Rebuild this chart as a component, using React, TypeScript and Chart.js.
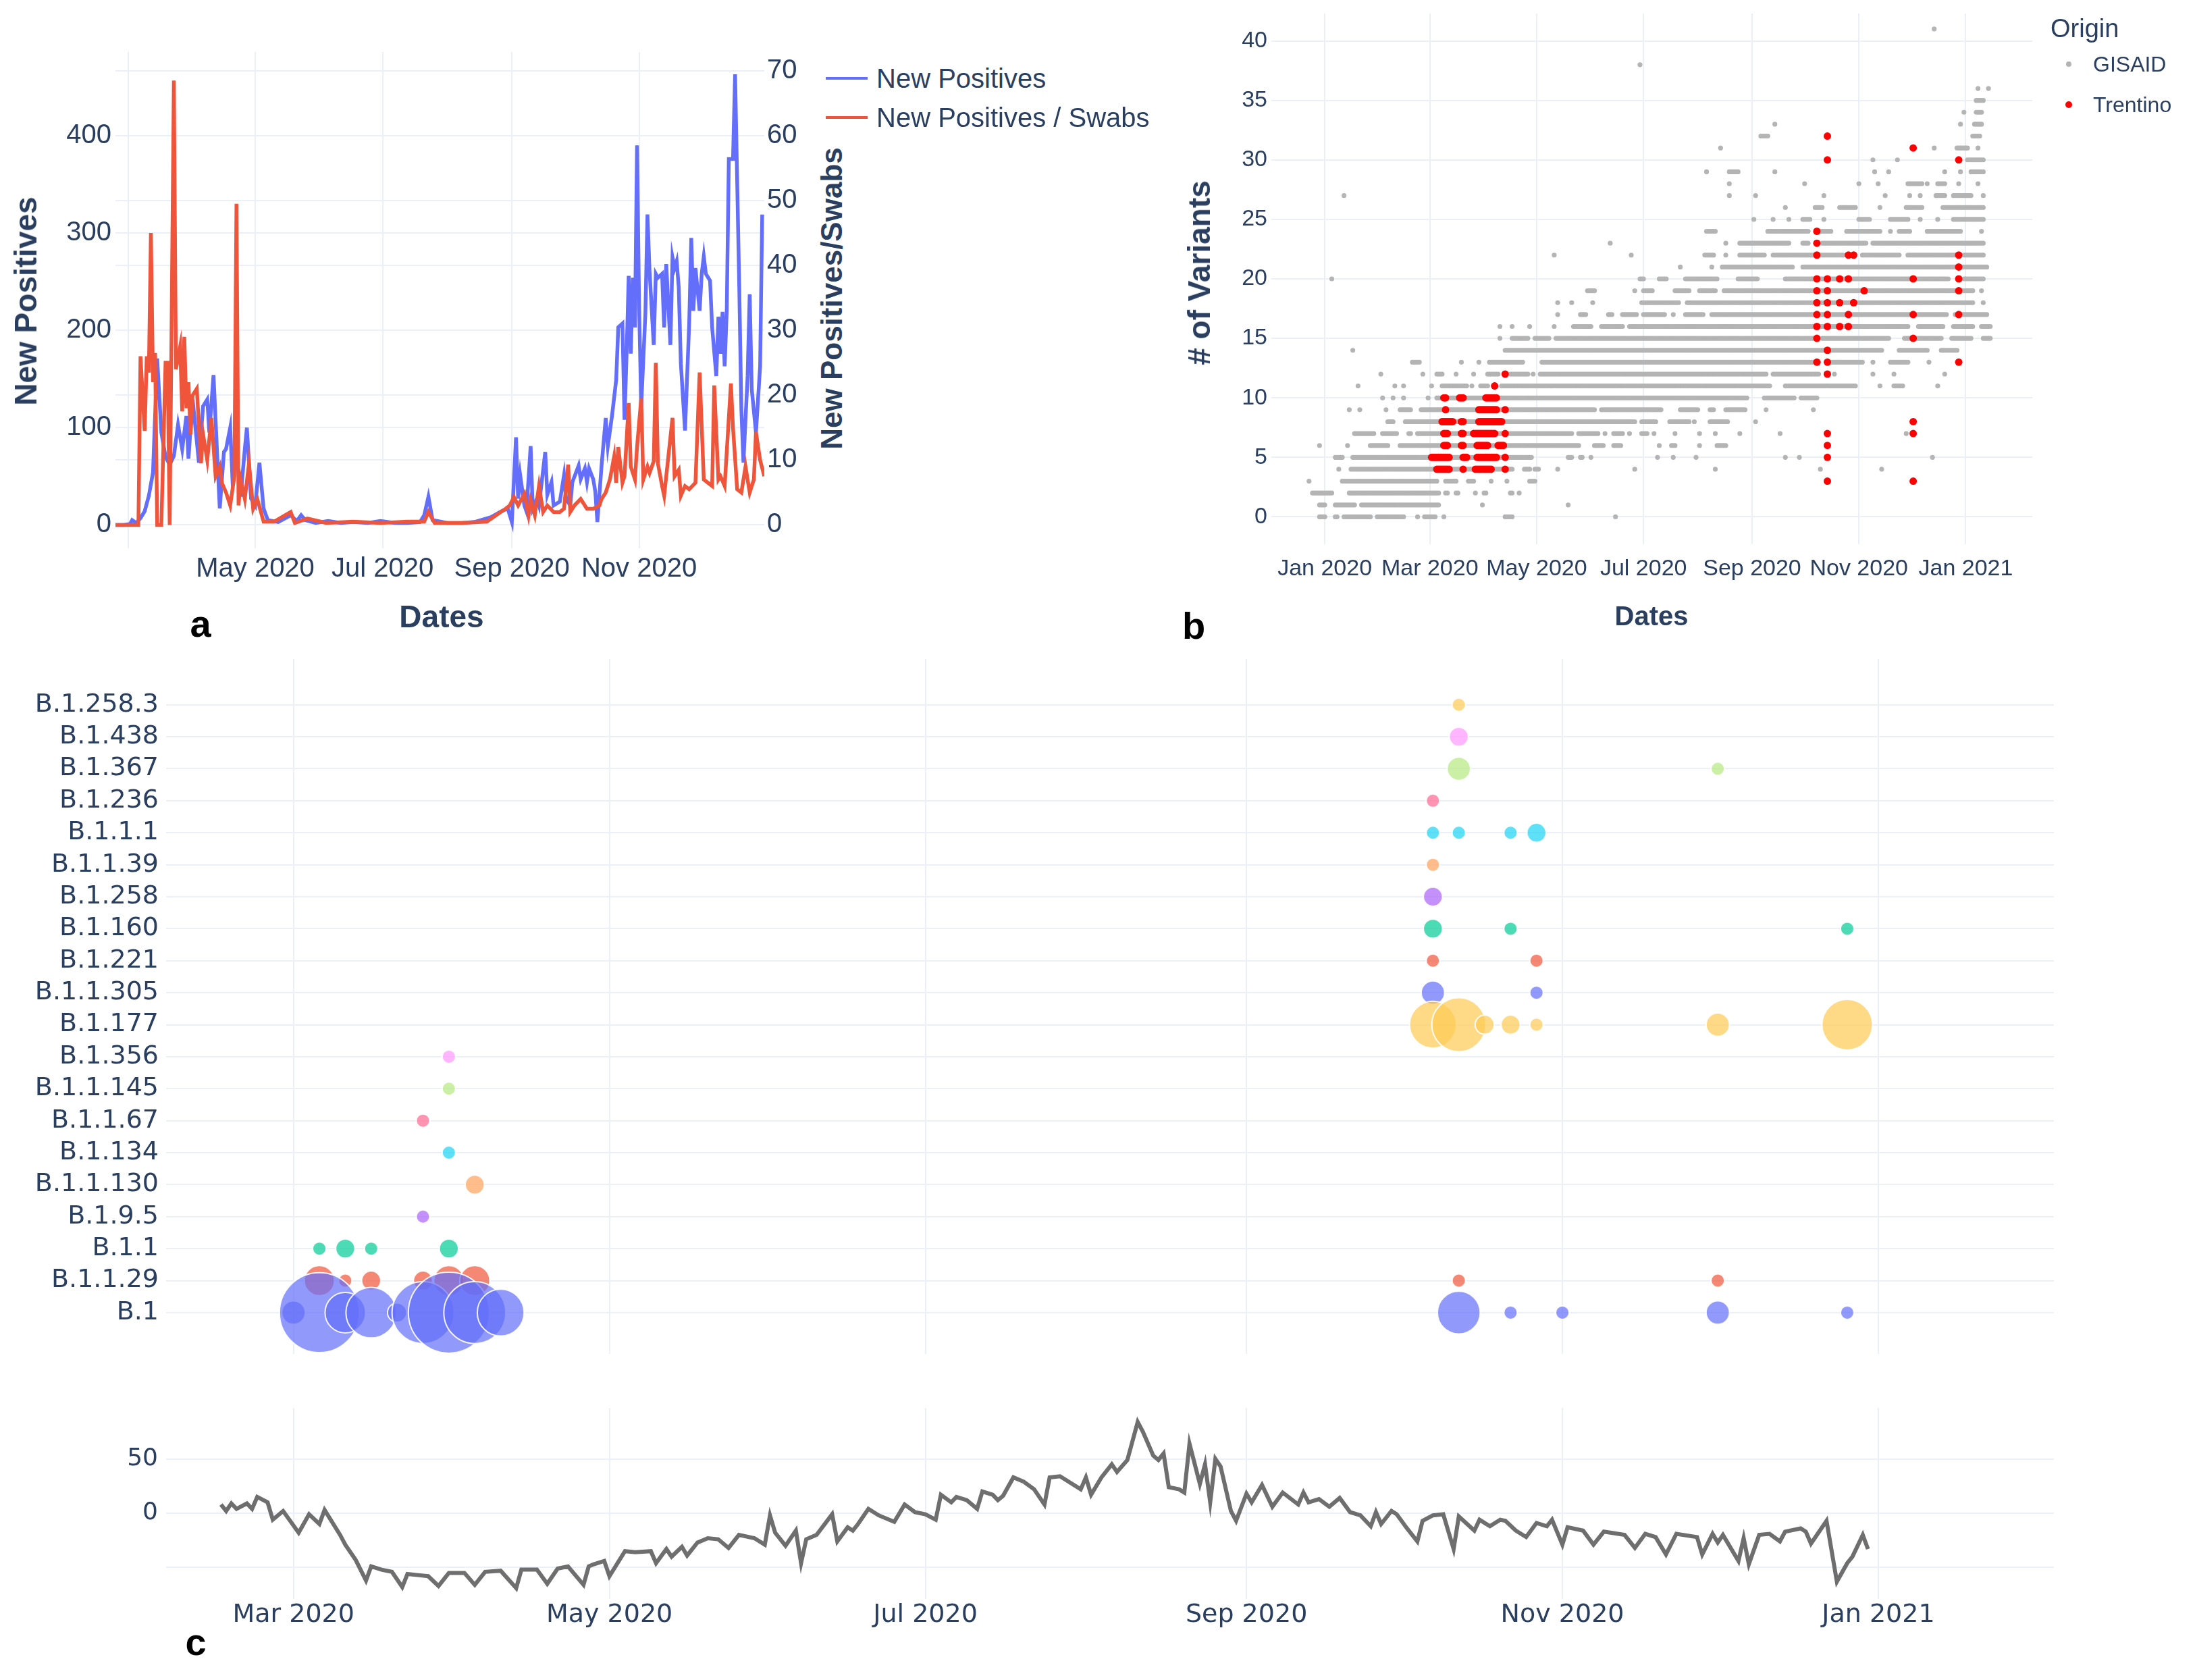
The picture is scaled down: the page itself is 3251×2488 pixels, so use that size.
import React, { useEffect, useRef } from "react";
import { Chart, registerables } from "chart.js";

Chart.register(...registerables);

// ---------------- DATA ----------------
// Day numbers count days from 2020-01-01 (0 = 1 Jan 2020).

// Panel a: daily new positives (left axis) and new positives / swabs (right axis)
const positivesDay = [54, 58, 61, 62, 64, 66, 68, 70, 72, 74, 76, 78, 80, 82, 84, 86, 88, 89, 91, 94, 96, 98, 99, 101, 103, 104, 106, 107, 109, 110, 112, 114, 116, 117, 119, 121, 123, 125, 127, 132, 138, 141, 143, 145, 150, 156, 162, 168, 175, 181, 188, 194, 200, 202, 204, 206, 213, 220, 226, 234, 239, 242, 244, 246, 247, 248, 250, 251, 253, 254, 256, 257, 260, 261, 263, 264, 267, 269, 270, 272, 273, 276, 277, 279, 280, 281, 283, 284, 285, 287, 289, 290, 292, 294, 295, 297, 298, 299, 300, 301, 302, 303, 304, 305, 306, 308, 309, 310, 312, 313, 314, 316, 317, 318, 320, 321, 322, 323, 324, 325, 327, 329, 330, 331, 332, 334, 335, 336, 337, 339, 340, 342, 343, 344, 345, 346, 347, 348, 350, 351, 353, 354, 355, 357, 358, 359, 361, 363, 364];
const positivesValue = [0, 0, 1, 5, 2, 7, 14, 30, 54, 171, 95, 70, 62, 71, 103, 78, 112, 68, 129, 64, 122, 129, 95, 154, 61, 17, 75, 78, 100, 51, 75, 29, 78, 100, 27, 20, 64, 17, 5, 3, 10, 4, 10, 5, 2, 4, 2, 3, 2, 4, 2, 2, 3, 10, 29, 5, 2, 2, 3, 8, 14, 17, 3, 90, 27, 51, 20, 14, 81, 17, 27, 20, 75, 31, 44, 20, 24, 51, 27, 20, 44, 61, 47, 58, 44, 58, 47, 34, 3, 61, 110, 81, 112, 149, 203, 207, 108, 176, 256, 176, 254, 203, 390, 224, 122, 217, 319, 261, 185, 258, 254, 258, 203, 268, 185, 275, 264, 271, 244, 166, 97, 207, 295, 220, 264, 220, 258, 276, 258, 251, 203, 153, 214, 176, 219, 163, 220, 376, 376, 463, 244, 119, 64, 153, 237, 139, 95, 163, 319];

const ratioDay = [54, 65, 66, 68, 69, 70, 71, 72, 73, 74, 76, 78, 79, 80, 82, 83, 85, 86, 87, 88, 89, 90, 91, 93, 95, 96, 98, 100, 102, 104, 105, 107, 109, 111, 112, 113, 114, 116, 118, 120, 122, 125, 130, 138, 140, 146, 155, 168, 181, 194, 202, 204, 207, 220, 232, 241, 243, 245, 247, 250, 252, 253, 255, 257, 259, 261, 264, 267, 269, 271, 272, 274, 277, 280, 283, 286, 287, 289, 291, 293, 294, 295, 297, 298, 300, 301, 303, 304, 306, 307, 309, 310, 312, 313, 314, 316, 317, 319, 321, 322, 324, 325, 327, 329, 332, 334, 336, 338, 340, 341, 343, 344, 346, 349, 350, 352, 354, 356, 358, 360, 361, 363, 365];
const ratioValue = [0, 0, 26, 14.5, 26, 23.5, 45, 22, 26.5, 0, 0, 25, 25, 0, 68.5, 24, 27.5, 17.5, 29, 18, 22, 14, 20, 21, 9.5, 14, 10, 16.5, 7.5, 9, 6.5, 5, 3, 7.5, 49.5, 3, 7, 4, 9.5, 2.5, 4, 0.5, 0.5, 2, 0.3, 1, 0.3, 0.5, 0.3, 0.5, 0.5, 2, 0.3, 0.3, 0.5, 2.5, 3, 4.3, 3, 4.8, 1.5, 3.8, 1.5, 6, 2, 3, 2, 2, 2.5, 9.3, 2, 3, 4, 2.5, 2.5, 3, 4, 5, 7, 10.5, 6.5, 12, 6.5, 7.5, 18.8, 9, 7, 12, 19.5, 7, 9, 8, 9.8, 25, 9.5, 6, 4.5, 10.5, 16.5, 7.5, 8.5, 4.5, 6, 5.5, 6.5, 23.5, 7, 6.5, 6, 21.5, 7, 7.5, 6, 21.8, 15, 5.5, 5, 9, 5, 7, 14.3, 10, 7.5];

const positivesTicks = [0, 100, 200, 300, 400];
const ratioTicks = [0, 10, 20, 30, 40, 50, 60, 70];

// Panel b: samples per number of variants (row index = # of variants), runs of days "from:to"
const gisaidRows = [
  "-3:0 6:7 11:26 30:45 53 57:63 68 103:107 166",
  "-3:0 6:17 21:65 90 139",
  "-7:4 14:65 69:70 75:76 86 91:92 106:107 111",
  "-9 10:64 69:75 82:85 95 104 117:120",
  "8 15:107 114:117 120:122 133 177 223 283 318",
  "6:10 16:118 139:141 146:147 152 190 199 212 263 271 347",
  "-3 13 26:36 43:145 154:159 165:169 191 198:200 214 224:229",
  "17:28 33:41 48:49 53:141 145:156 160 165:170 174 181:184 188 200 214 223 237 260 332",
  "36:39 46:177 181:189 197:208 211 220:230 246",
  "14 20 35 43:49 55:154 158:192 203:213 220:222 229:240 252 279",
  "33 39 45 59 64:241 251:268 272:281",
  "19 40 45 61 67:81 84 89:93 101:254 263:303 317 325:330 350",
  "32 56 64:67 75 85 93:99 106:116 119 123:252 256:282 291 313 325 354",
  "50:54 78 88 94:113 124:282 288:307 313 323:333 345",
  "16 103:286 289:318 328:344 352:361",
  "100 107:116 120:128 132:279 284:322 331:352 358:369 376:380",
  "100 107 117 131 142:152 158:170 174:333 339:353 359:370 375:380",
  "133 146:149 162:164 170:178 182:194 199 206:216 221:355 360:378",
  "133 141 153 181:202 207:370 376",
  "150:154 177 182:187 200:208 214:223 228:370 375",
  "4 180:182 191:195 206:224 236:247 263:356 365:376",
  "203 221 227:267 273:378",
  "131 175 217:222 229 237:251 256:296 307:328 333:360 365:376",
  "163 229 237:265 273:276 284:309 313:376",
  "218:223 253:276 282:289 298:317 323 328:334 344:363 375",
  "245 256 265 273:277 285 305:311 323:333 340 350 359:376",
  "263 280:284 294:303 317 332:341 353:376",
  "11 231 246 285 320 334 340 349:354 359:369 376",
  "231 274 305 316 333:341 344 350:354 362 373",
  "218 231:236 257 314 322 354 363 369:376",
  "313 327 367:376",
  "226 348 361:367 373",
  "249:253 370:374",
  "257 363 371:375",
  "365 372:375",
  "372:376",
  "373 379",
  "",
  "180",
  "",
  "",
  "348",
];
const trentinoRows = [
  "",
  "",
  "",
  "287 336",
  "64:71 79 86:95 103",
  "61:71 79:81 87:98 103 287",
  "68:70 78:79 87:93 99:102 287",
  "68:70 78:79 85:97 103 287 336",
  "67:73 78:79 88:101 336",
  "69 88:98 103",
  "68:69 77:79 92:98",
  "97",
  "103 287",
  "281 287 362",
  "287",
  "281 336",
  "281 287 294 299",
  "281 287 299 336 362",
  "281 287 294 302",
  "281 287 308 362",
  "281 287 294 299 336 362",
  "362",
  "281 299 302 362",
  "281",
  "281",
  "",
  "",
  "",
  "",
  "",
  "287 362",
  "336",
  "287",
];
const variantTicks = [0, 5, 10, 15, 20, 25, 30, 35, 40];

// Panel c: lineages (bottom to top), sequenced genomes per 5-day bin
const variantNames = ["B.1", "B.1.1.29", "B.1.1", "B.1.9.5", "B.1.1.130", "B.1.134", "B.1.1.67", "B.1.1.145", "B.1.356", "B.1.177", "B.1.1.305", "B.1.221", "B.1.160", "B.1.258", "B.1.1.39", "B.1.1.1", "B.1.236", "B.1.367", "B.1.438", "B.1.258.3"];
const variantColors = ["#636EFA", "#EF553B", "#00CC96", "#AB63FA", "#FFA15A", "#19D3F3", "#FF6692", "#B6E880", "#FF97FF", "#FECB52", "#636EFA", "#EF553B", "#00CC96", "#AB63FA", "#FFA15A", "#19D3F3", "#FF6692", "#B6E880", "#FF97FF", "#FECB52"];
const lineageRecords: Array<[string, string, number]> = [
  ["B.1", "2020-03-01", 3], ["B.1", "2020-03-06", 35], ["B.1", "2020-03-11", 9], ["B.1", "2020-03-16", 14], ["B.1", "2020-03-21", 2],
  ["B.1", "2020-03-26", 21], ["B.1", "2020-03-31", 36], ["B.1", "2020-04-05", 21], ["B.1", "2020-04-10", 12],
  ["B.1", "2020-10-12", 10], ["B.1", "2020-10-22", 1], ["B.1", "2020-11-01", 1], ["B.1", "2020-12-01", 3], ["B.1", "2020-12-26", 1],
  ["B.1.1.29", "2020-03-06", 5], ["B.1.1.29", "2020-03-11", 1], ["B.1.1.29", "2020-03-16", 2], ["B.1.1.29", "2020-03-26", 2],
  ["B.1.1.29", "2020-03-31", 5], ["B.1.1.29", "2020-04-05", 5], ["B.1.1.29", "2020-10-12", 1], ["B.1.1.29", "2020-12-01", 1],
  ["B.1.1", "2020-03-06", 1], ["B.1.1", "2020-03-11", 2], ["B.1.1", "2020-03-16", 1], ["B.1.1", "2020-03-31", 2],
  ["B.1.9.5", "2020-03-26", 1],
  ["B.1.1.130", "2020-04-05", 2],
  ["B.1.134", "2020-03-31", 1],
  ["B.1.1.67", "2020-03-26", 1],
  ["B.1.1.145", "2020-03-31", 1],
  ["B.1.356", "2020-03-31", 1],
  ["B.1.177", "2020-10-07", 12], ["B.1.177", "2020-10-12", 16], ["B.1.177", "2020-10-17", 2], ["B.1.177", "2020-10-22", 2],
  ["B.1.177", "2020-10-27", 1], ["B.1.177", "2020-12-01", 3], ["B.1.177", "2020-12-26", 14],
  ["B.1.1.305", "2020-10-07", 3], ["B.1.1.305", "2020-10-27", 1],
  ["B.1.221", "2020-10-07", 1], ["B.1.221", "2020-10-27", 1],
  ["B.1.160", "2020-10-07", 2], ["B.1.160", "2020-10-22", 1], ["B.1.160", "2020-12-26", 1],
  ["B.1.258", "2020-10-07", 2],
  ["B.1.1.39", "2020-10-07", 1],
  ["B.1.1.1", "2020-10-07", 1], ["B.1.1.1", "2020-10-12", 1], ["B.1.1.1", "2020-10-22", 1], ["B.1.1.1", "2020-10-27", 2],
  ["B.1.236", "2020-10-07", 1],
  ["B.1.367", "2020-10-12", 3], ["B.1.367", "2020-12-01", 1],
  ["B.1.438", "2020-10-12", 2],
  ["B.1.258.3", "2020-10-12", 1],
];

// Panel c (bottom): mobility change, %
const mobilityDay = [46, 47, 48, 49, 51, 52, 53, 55, 56, 58, 61, 63, 65, 66, 69, 70, 72, 74, 75, 77, 79, 81, 82, 84, 86, 88, 90, 93, 95, 97, 100, 103, 104, 107, 109, 111, 113, 116, 117, 118, 120, 121, 124, 126, 129, 130, 132, 133, 135, 136, 138, 140, 142, 144, 146, 149, 151, 152, 153, 155, 157, 158, 159, 161, 164, 165, 167, 168, 169, 171, 173, 176, 178, 180, 182, 184, 185, 187, 188, 190, 192, 193, 195, 196, 197, 199, 201, 203, 205, 206, 208, 212, 213, 214, 216, 218, 219, 221, 223, 224, 226, 227, 228, 229, 231, 232, 233, 235, 236, 237, 238, 239, 241, 242, 244, 245, 246, 247, 249, 251, 254, 255, 256, 258, 260, 262, 264, 266, 268, 269, 270, 272, 273, 275, 277, 278, 280, 282, 284, 285, 288, 289, 291, 293, 294, 296, 298, 300, 302, 303, 305, 306, 309, 311, 313, 317, 319, 321, 323, 325, 327, 331, 332, 334, 335, 336, 339, 340, 341, 343, 345, 347, 348, 351, 352, 353, 355, 356, 358, 360, 361, 363, 364];
const mobilityValue = [8, 2, 9, 4, 9, 4, 15, 10, -6, 2, -18, -1, -10, 3, -20, -29, -43, -62, -49, -52, -54, -68, -56, -57, -58, -67, -55, -55, -66, -54, -53, -69, -52, -52, -65, -51, -49, -66, -49, -47, -44, -58, -35, -36, -35, -46, -33, -40, -31, -39, -27, -23, -24, -32, -20, -23, -29, -2, -18, -30, -16, -46, -24, -20, -1, -26, -13, -16, -10, 4, -2, -8, 8, 1, -1, -6, 17, 10, 15, 12, 4, 20, 17, 12, 16, 33, 29, 22, 8, 33, 34, 22, 33, 17, 33, 45, 38, 49, 84, 75, 53, 49, 55, 24, 22, 19, 64, 27, 45, 10, 50, 43, 2, -7, 18, 10, 18, 26, 6, 19, 8, 19, 10, 13, 6, 14, 1, -2, -12, 1, -10, 2, -1, -14, -26, -7, -2, -1, -33, -3, -16, -6, -12, -6, -7, -16, -22, -9, -12, -6, -29, -13, -16, -29, -17, -20, -32, -19, -22, -38, -19, -22, -38, -19, -27, -20, -44, -23, -47, -20, -19, -26, -17, -14, -17, -28, -14, -7, -63, -46, -40, -20, -33];
const mobilityTicks = [-50, 0, 50];

const monthTickDates = ["2020-01-01", "2020-03-01", "2020-05-01", "2020-07-01", "2020-09-01", "2020-11-01", "2021-01-01"];
const MONTH_NAMES = ["Jan", "Feb", "Mar", "Apr", "May", "Jun", "Jul", "Aug", "Sep", "Oct", "Nov", "Dec"];

// ---------------- HELPERS ----------------
const DAY_MS = 86400000;
const EPOCH = Date.UTC(2020, 0, 1);
function dayOf(iso: string): number {
  const [y, m, d] = iso.split("-").map(Number);
  return Math.round((Date.UTC(y, m - 1, d) - EPOCH) / DAY_MS);
}
function monthLabel(day: number): string {
  const dt = new Date(EPOCH + day * DAY_MS);
  return MONTH_NAMES[dt.getUTCMonth()] + " " + dt.getUTCFullYear();
}
const monthTickDays = monthTickDates.map(dayOf);

function parseRuns(s: string): number[] {
  const out: number[] = [];
  s.split(" ").filter(Boolean).forEach((tok) => {
    let a: number, b: number;
    const idx = tok.indexOf(":", 1);
    if (idx > 0) {
      a = Number(tok.slice(0, idx));
      b = Number(tok.slice(idx + 1));
    } else {
      a = Number(tok);
      b = a;
    }
    for (let d = a; d <= b; d++) out.push(d);
  });
  return out;
}
function rowsToPoints(rows: string[]) {
  const pts: { x: number; y: number }[] = [];
  rows.forEach((row, y) => parseRuns(row).forEach((x) => pts.push({ x, y })));
  return pts;
}
function rgba(hex: string, a: number) {
  const n = parseInt(hex.slice(1), 16);
  return `rgba(${(n >> 16) & 255},${(n >> 8) & 255},${n & 255},${a})`;
}

const GRID = "#EBF0F8";
const INK = "#2a3f5f";
const SANS = "Liberation Sans";
const WIDE = "DejaVu Sans";

function fixedSize(w?: number, h?: number) {
  return (scale: any) => {
    if (w !== undefined) scale.width = w;
    if (h !== undefined) scale.height = h;
    scale.paddingTop = 0;
    scale.paddingBottom = 0;
    scale.paddingLeft = 0;
    scale.paddingRight = 0;
  };
}
function tickAt(values: number[]) {
  return (scale: any) => {
    scale.ticks = values.filter((v) => v >= scale.min - 1e-9 && v <= scale.max + 1e-9).map((v) => ({ value: v }));
  };
}
const gridOpts = { color: GRID, lineWidth: 2, drawTicks: false };
const noBorder = { display: false };
const baseOpts = {
  animation: false as const,
  responsive: false,
  devicePixelRatio: 1,
  events: [] as any[],
};
const noPlugins = { legend: { display: false }, tooltip: { enabled: false }, title: { display: false } };

// ---------------- CHART FACTORIES ----------------
function makePanelA(): any {
  return {
    type: "line",
    data: {
      datasets: [
        {
          label: "New Positives",
          data: positivesDay.map((d, i) => ({ x: d, y: positivesValue[i] })),
          borderColor: "#636EFA",
          backgroundColor: "#636EFA",
          borderWidth: 5.5,
          pointRadius: 0,
          tension: 0,
          yAxisID: "y",
          order: 2,
        },
        {
          label: "New Positives / Swabs",
          data: ratioDay.map((d, i) => ({ x: d, y: ratioValue[i] })),
          borderColor: "#EF553B",
          backgroundColor: "#EF553B",
          borderWidth: 5.5,
          pointRadius: 0,
          tension: 0,
          yAxisID: "y1",
          order: 1,
        },
      ],
    },
    options: {
      ...baseOpts,
      layout: { autoPadding: false, padding: { top: 17, left: 0, right: 0, bottom: 0 } },
      plugins: noPlugins,
      scales: {
        x: {
          type: "linear",
          min: 54,
          max: 365,
          afterBuildTicks: tickAt(monthTickDays),
          afterFit: fixedSize(undefined, 78),
          grid: gridOpts,
          border: noBorder,
          ticks: {
            autoSkip: false,
            maxRotation: 0,
            padding: 7,
            color: INK,
            font: { family: SANS, size: 40 },
            callback: (v: number) => (v === dayOf("2020-03-01") ? "" : monthLabel(v)),
          },
        },
        y: {
          type: "linear",
          position: "left",
          min: -24,
          max: 486,
          afterBuildTicks: tickAt(positivesTicks),
          afterFit: fixedSize(171, undefined),
          grid: gridOpts,
          border: noBorder,
          ticks: { padding: 6, color: INK, font: { family: SANS, size: 40 }, callback: (v: number) => String(v) },
        },
        y1: {
          type: "linear",
          position: "right",
          min: -3.6,
          max: 72.9,
          afterBuildTicks: tickAt(ratioTicks),
          afterFit: fixedSize(68, undefined),
          grid: gridOpts,
          border: noBorder,
          ticks: { padding: 4, color: INK, font: { family: SANS, size: 40 }, callback: (v: number) => String(v) },
        },
      },
    },
  };
}

function makePanelB(): any {
  return {
    type: "scatter",
    data: {
      datasets: [
        {
          label: "GISAID",
          data: rowsToPoints(gisaidRows),
          backgroundColor: "#b4b4b4",
          borderWidth: 0,
          pointRadius: 3.6,
          order: 2,
        },
        {
          label: "Trentino",
          data: rowsToPoints(trentinoRows),
          backgroundColor: "#ff0000",
          borderWidth: 0,
          pointRadius: 5.5,
          order: 1,
        },
      ],
    },
    options: {
      ...baseOpts,
      layout: { autoPadding: false, padding: { top: 20, left: 0, right: 30, bottom: 0 } },
      plugins: noPlugins,
      scales: {
        x: {
          type: "linear",
          min: -30.5,
          max: 404,
          afterBuildTicks: tickAt(monthTickDays),
          afterFit: fixedSize(undefined, 94),
          grid: gridOpts,
          border: noBorder,
          ticks: { autoSkip: false, maxRotation: 0, padding: 16, color: INK, font: { family: SANS, size: 34 }, callback: (v: number) => monthLabel(v) },
        },
        y: {
          type: "linear",
          min: -2.3,
          max: 42.3,
          afterBuildTicks: tickAt(variantTicks),
          afterFit: fixedSize(183, undefined),
          grid: gridOpts,
          border: noBorder,
          ticks: { padding: 6, color: INK, font: { family: SANS, size: 34 }, callback: (v: number) => String(v) },
        },
      },
    },
  };
}

const BUBBLE_PX = 10;
function makePanelCBubbles(): any {
  return {
    type: "bubble",
    data: {
      datasets: variantNames.map((name, i) => ({
        label: name,
        data: lineageRecords
          .filter((r) => r[0] === name)
          .map((r) => ({ x: dayOf(r[1]), y: i, r: BUBBLE_PX * Math.sqrt(r[2]) })),
        backgroundColor: rgba(variantColors[i], 0.7),
        borderColor: "rgba(255,255,255,0.9)",
        borderWidth: 2,
      })),
    },
    options: {
      ...baseOpts,
      layout: { autoPadding: false, padding: { top: 36, left: 0, right: 58, bottom: 35 } },
      plugins: noPlugins,
      scales: {
        x: {
          type: "linear",
          min: 35.4,
          max: 399.9,
          afterBuildTicks: tickAt(monthTickDays),
          afterFit: fixedSize(undefined, 0),
          grid: gridOpts,
          border: noBorder,
          ticks: { display: false },
        },
        y: {
          type: "linear",
          min: -1.29,
          max: 20.43,
          afterBuildTicks: tickAt(variantNames.map((_, i) => i)),
          afterFit: fixedSize(246, undefined),
          grid: gridOpts,
          border: noBorder,
          ticks: { autoSkip: false, padding: 11, color: INK, font: { family: WIDE, size: 38 }, callback: (v: number) => variantNames[v] ?? "" },
        },
      },
    },
  };
}

function makePanelCLine(): any {
  return {
    type: "line",
    data: {
      datasets: [
        {
          label: "Mobility",
          data: mobilityDay.map((d, i) => ({ x: d, y: mobilityValue[i] })),
          borderColor: "#6e6e6e",
          backgroundColor: "#6e6e6e",
          borderWidth: 6,
          pointRadius: 0,
          tension: 0,
        },
      ],
    },
    options: {
      ...baseOpts,
      layout: { autoPadding: false, padding: { top: 45, left: 0, right: 58, bottom: 0 } },
      plugins: noPlugins,
      scales: {
        x: {
          type: "linear",
          min: 35.4,
          max: 399.9,
          afterBuildTicks: tickAt(monthTickDays),
          afterFit: fixedSize(undefined, 92),
          grid: gridOpts,
          border: noBorder,
          ticks: { autoSkip: false, maxRotation: 0, padding: 1, color: INK, font: { family: WIDE, size: 38 }, callback: (v: number) => monthLabel(v) },
        },
        y: {
          type: "linear",
          min: -79,
          max: 97,
          afterBuildTicks: tickAt(mobilityTicks),
          afterFit: fixedSize(246, undefined),
          grid: gridOpts,
          border: noBorder,
          ticks: { padding: 12, color: INK, font: { family: WIDE, size: 36 }, callback: (v: number) => (v < 0 ? "" : String(v)) },
        },
      },
    },
  };
}

// ---------------- COMPONENTS ----------------
function ChartCanvas(props: { left: number; top: number; width: number; height: number; make: () => any }) {
  const ref = useRef<HTMLCanvasElement>(null);
  useEffect(() => {
    const chart = new Chart(ref.current as HTMLCanvasElement, props.make());
    return () => chart.destroy();
  }, []);
  return (
    <canvas
      ref={ref}
      width={props.width}
      height={props.height}
      style={{ position: "absolute", left: props.left, top: props.top, width: props.width, height: props.height }}
    />
  );
}

function Label(props: {
  x: number;
  y: number;
  text: string;
  size: number;
  bold?: boolean;
  color?: string;
  family?: string;
  rotate?: number;
  align?: "center" | "left";
}) {
  const tx = props.align === "left" ? "0" : "-50%";
  return (
    <div
      style={{
        position: "absolute",
        left: props.x,
        top: props.y,
        transform: `translate(${tx}, -50%) rotate(${props.rotate ?? 0}deg)`,
        fontSize: props.size,
        fontWeight: props.bold ? 700 : 400,
        fontFamily: props.family ?? SANS,
        color: props.color ?? INK,
        whiteSpace: "nowrap",
        lineHeight: 1,
      }}
    >
      {props.text}
    </div>
  );
}

function Swatch(props: { x: number; y: number; w: number; h: number; color: string; round?: boolean }) {
  return (
    <div
      style={{
        position: "absolute",
        left: props.x - (props.round ? props.w / 2 : 0),
        top: props.y - props.h / 2,
        width: props.w,
        height: props.h,
        background: props.color,
        borderRadius: props.round ? "50%" : 0,
      }}
    />
  );
}

export default function App() {
  return (
    <div style={{ position: "absolute", left: 0, top: 0, width: 3251, height: 2488, background: "#ffffff", overflow: "hidden" }}>
      <ChartCanvas left={0} top={60} width={1200} height={830} make={makePanelA} />
      <ChartCanvas left={1700} top={0} width={1340} height={900} make={makePanelB} />
      <ChartCanvas left={0} top={940} width={3100} height={1100} make={makePanelCBubbles} />
      <ChartCanvas left={0} top={2040} width={3100} height={420} make={makePanelCLine} />

      {/* panel a texts */}
      <Label x={38} y={446} text="New Positives" size={46} bold rotate={-90} />
      <Label x={1232} y={442} text="New Positives/Swabs" size={44} bold rotate={-90} />
      <Label x={654} y={913} text="Dates" size={46} bold />
      <Label x={297} y={924} text="a" size={56} bold color="#000" />
      <Swatch x={1223} y={116} w={62} h={4} color="#636EFA" />
      <Label x={1298} y={116} text="New Positives" size={40} align="left" />
      <Swatch x={1223} y={174} w={62} h={4} color="#EF553B" />
      <Label x={1298} y={174} text="New Positives / Swabs" size={40} align="left" />

      {/* panel b texts */}
      <Label x={1776} y={404} text="# of Variants" size={46} bold rotate={-90} />
      <Label x={2446} y={912} text="Dates" size={40} bold />
      <Label x={1768} y={927} text="b" size={56} bold color="#000" />
      <Label x={3037} y={42} text="Origin" size={38} align="left" />
      <Swatch x={3064} y={95} w={8} h={8} color="#b4b4b4" round />
      <Label x={3100} y={95} text="GISAID" size={32} align="left" />
      <Swatch x={3064} y={155} w={10} h={10} color="#ff0000" round />
      <Label x={3100} y={155} text="Trentino" size={32} align="left" />

      {/* panel c texts */}
      <Label x={290} y={2432} text="c" size={56} bold color="#000" />
    </div>
  );
}
